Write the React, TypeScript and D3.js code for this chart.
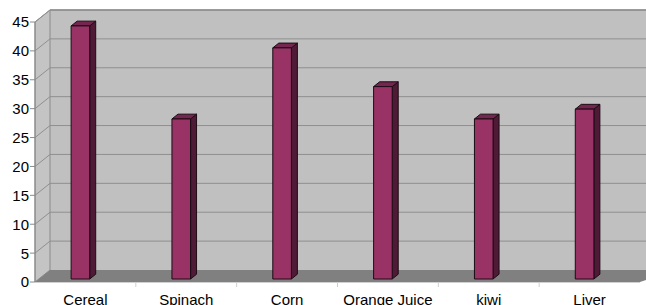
import * as d3 from 'd3'

const categories = ['Cereal', 'Spinach', 'Corn', 'Orange Juice', 'kiwi', 'Liver']
const values = [43.8, 27.7, 40, 33.3, 27.7, 29.4]
const yTicks = [0, 5, 10, 15, 20, 25, 30, 35, 40, 45]

const W = 646
const H = 305
const DX = 15 // depth offset front -> back
const DY = 12
const Z0 = 0.25 // bar front depth
const Z1 = 0.65 // bar back depth

export default function App() {
  const x = d3.scaleBand<string>().domain(categories).range([35, 640])
  const y = d3.scaleLinear().domain([0, 45]).range([282, 22])

  const pt = (px: number, py: number, z: number) => [px + z * DX, py - z * DY]
  const poly = (pts: number[][]) => pts.map((p) => p.join(',')).join(' ')

  const x0 = x.range()[0]
  const x1 = x.range()[1]
  const yTop = y(45)
  const yBot = y(0)

  return (
    <svg
      width={W}
      height={H}
      style={{ position: 'absolute', left: 0, top: 0, background: '#fff' }}
      fontFamily="'Liberation Sans', Arial, sans-serif"
    >
      {/* back wall */}
      <polygon
        points={poly([pt(x0, yTop, 1), pt(x1 + 20, yTop, 1), pt(x1 + 20, yBot, 1), pt(x0, yBot, 1)])}
        fill="#c0c0c0"
      />
      <line x1={x0 + DX} x2={W} y1={yTop - DY} y2={yTop - DY} stroke="#8a8a8a" strokeWidth={1.5} />
      {/* left wall */}
      <polygon
        points={poly([pt(x0, yTop, 0), pt(x0, yTop, 1), pt(x0, yBot, 1), pt(x0, yBot, 0)])}
        fill="#c4c4c4"
        stroke="#8a8a8a"
        strokeWidth={1}
      />
      {/* gridlines */}
      {yTicks.slice(1).map((t) => {
        const a = pt(x0, y(t), 0)
        const b = pt(x0, y(t), 1)
        return (
          <g key={t}>
            <polyline
              points={poly([a, b, [W, b[1]]])}
              fill="none"
              stroke="#8f8f8f"
              strokeWidth={1}
            />
          </g>
        )
      })}
      {/* floor */}
      <polygon
        points={poly([pt(x0, yBot, 0), pt(x0, yBot, 1), pt(x1 + 20, yBot, 1), pt(x1 + 20, yBot, 0)])}
        fill="#808080"
      />
      <polygon
        points={poly([pt(x1, yBot, 0), pt(x1 + 20, yBot, 0), pt(x1 + 20, yBot, 1)])}
        fill="#fff"
      />
      {/* axes */}
      <line x1={x0} x2={x0} y1={yTop} y2={yBot} stroke="#8a8a8a" />
      <line x1={x0} x2={x1} y1={yBot + 0.5} y2={yBot + 0.5} stroke="#d0d0d0" />
      {yTicks.map((t) => (
        <g key={t}>
          <line x1={x0 - 5} x2={x0} y1={y(t)} y2={y(t)} stroke="#8a8a8a" />
          <text x={29} y={y(t)} dy="0.36em" textAnchor="end" fontSize={15} fill="#000">
            {t}
          </text>
        </g>
      ))}
      {categories.map((c, i) =>
        i === 0 ? null : (
          <line key={c} x1={x(c)!} x2={x(c)!} y1={yBot} y2={yBot + 5} stroke="#d0d0d0" />
        )
      )}
      {/* bars */}
      {categories.map((c, i) => {
        const cx = x(c)! + x.bandwidth() / 2
        const bw = 18.6
        const left = cx - 5 - bw / 2 - Z0 * DX
        const right = left + bw
        const yt = y(values[i])
        const front = [pt(left, yBot, Z0), pt(right, yBot, Z0), pt(right, yt, Z0), pt(left, yt, Z0)]
        const side = [pt(right, yBot, Z0), pt(right, yBot, Z1), pt(right, yt, Z1), pt(right, yt, Z0)]
        const top = [pt(left, yt, Z0), pt(left, yt, Z1), pt(right, yt, Z1), pt(right, yt, Z0)]
        return (
          <g key={c} stroke="#1c0c14" strokeWidth={1} strokeLinejoin="round">
            <polygon points={poly(side)} fill="#4f1a36" />
            <polygon points={poly(top)} fill="#742650" />
            <polygon points={poly(front)} fill="#993366" />
          </g>
        )
      })}
      {/* category labels */}
      {categories.map((c) => (
        <text
          key={c}
          x={x(c)! + x.bandwidth() / 2}
          y={305}
          textAnchor="middle"
          fontSize={15}
          fill="#000"
        >
          {c}
        </text>
      ))}
    </svg>
  )
}
